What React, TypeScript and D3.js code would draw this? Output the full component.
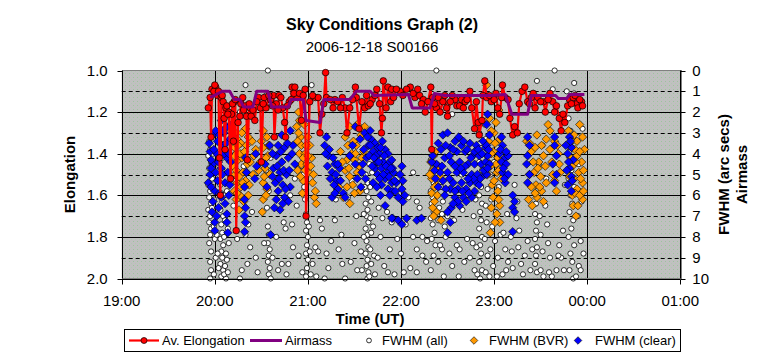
import React from "react";
import * as d3 from "d3";

// ---------- DATA ----------
const timeTicks = ["19:00", "20:00", "21:00", "22:00", "23:00", "00:00", "01:00"];
const timeTickHours = [19, 20, 21, 22, 23, 24, 25];
const elongTicks = [1.0, 1.2, 1.4, 1.6, 1.8, 2.0];
const fwhmTicks = [0, 1, 2, 3, 4, 5, 6, 7, 8, 9, 10];

// [UT hour, elongation]
const avElongation: [number, number][] = [
  [19.93,1.18],[19.95,1.13],[19.96,1.32],[19.97,1.09],[20.01,1.08],[20.03,1.12],[20.06,1.60],[20.07,1.13],[20.09,1.15],[20.10,1.23],[20.12,1.18],[20.15,1.20],[20.17,1.52],[20.18,1.21],[20.21,1.15],[20.23,1.77],[20.25,1.25],[20.28,1.16],[20.33,1.17],[20.34,1.22],[20.35,1.43],[20.38,1.18],[20.39,1.22],[20.47,1.13],[20.49,1.18],[20.50,1.44],[20.53,1.13],[20.55,1.18],[20.60,1.14],[20.63,1.12],[20.64,1.32],[20.66,1.16],[20.69,1.12],[20.73,1.18],[20.75,1.25],[20.76,1.32],[20.80,1.15],[20.83,1.08],[20.86,1.08],[20.89,1.13],[20.97,1.09],[20.98,1.70],[21.02,1.15],[21.08,1.13],[21.11,1.13],[21.13,1.30],[21.15,1.21],[21.19,1.01],[21.20,1.13],[21.29,1.14],[21.32,1.15],[21.40,1.18],[21.42,1.30],[21.45,1.18],[21.51,1.08],[21.52,1.13],[21.55,1.28],[21.58,1.15],[21.61,1.18],[21.65,1.17],[21.69,1.14],[21.74,1.09],[21.77,1.16],[21.79,1.30],[21.80,1.23],[21.81,1.05],[21.86,1.08],[21.89,1.15],[21.90,1.09],[21.92,1.13],[21.99,1.10],[22.10,1.08],[22.15,1.13],[22.20,1.12],[22.24,1.14],[22.26,1.20],[22.32,1.08],[22.33,1.38],[22.34,1.13],[22.38,1.18],[22.40,1.13],[22.45,1.15],[22.49,1.18],[22.50,1.22],[22.58,1.14],[22.60,1.17],[22.63,1.17],[22.65,1.14],[22.69,1.15],[22.74,1.10],[22.76,1.18],[22.79,1.28],[22.81,1.15],[22.83,1.25],[22.84,1.31],[22.87,1.24],[22.88,1.12],[22.90,1.05],[22.92,1.13],[22.97,1.15],[23.04,1.18],[23.06,1.21],[23.09,1.07],[23.12,1.13],[23.20,1.31],[23.22,1.27],[23.25,1.30],[23.30,1.10],[23.33,1.08],[23.36,1.15],[23.40,1.13],[23.44,1.18],[23.47,1.13],[23.53,1.15],[23.55,1.20],[23.60,1.11],[23.63,1.15],[23.65,1.20],[23.67,1.17],[23.70,1.23],[23.72,1.29],[23.76,1.25],[23.79,1.17],[23.81,1.14],[23.85,1.13],[23.89,1.16],[23.90,1.18],[23.94,1.15],[23.95,1.17],
  [19.99,1.10],[20.00,1.07],[20.04,1.10],[20.05,1.42],[20.08,1.12],[20.11,1.38],[20.13,1.17],[20.14,1.21],[20.19,1.16],[20.20,1.34],[20.22,1.14],[20.27,1.22],[20.30,1.13],[20.31,1.19],[20.37,1.16],[20.41,1.19],[20.43,1.24],[20.45,1.15],[20.52,1.16],[20.58,1.12],[20.62,1.17],[20.68,1.19],[20.71,1.13],[20.78,1.17],[20.82,1.14],[20.85,1.11],[20.91,1.11],[20.93,1.24],[20.95,1.12],[21.05,1.12],[21.17,1.16],[21.24,1.14],[21.27,1.18],[21.35,1.18],[21.37,1.13],[21.48,1.14],[21.63,1.12],[21.67,1.16],[21.72,1.12],[21.84,1.18],[21.95,1.09],[22.02,1.12],[22.06,1.09],[22.13,1.11],[22.18,1.09],[22.22,1.16],[22.29,1.15],[22.36,1.16],[22.42,1.20],[22.47,1.12],[22.53,1.15],[22.55,1.12],[22.67,1.18],[22.71,1.14],[22.95,1.12],[23.00,1.14],[23.02,1.11],[23.08,1.13],[23.15,1.14],[23.17,1.23],[23.27,1.16],[23.38,1.16],[23.42,1.11],[23.50,1.15],[23.58,1.14],[23.74,1.21],[23.83,1.16],[23.87,1.12],[23.92,1.14]
];

// [UT hour, airmass]
const airmass: [number, number][] = [
  [19.95,1.13],[20.08,1.10],[20.16,1.10],[20.21,1.14],[20.27,1.14],[20.31,1.175],[20.41,1.175],[20.45,1.10],[20.57,1.10],[20.61,1.175],[20.79,1.175],[20.82,1.14],[20.95,1.14],[20.98,1.24],[21.13,1.25],[21.17,1.14],[21.45,1.14],[21.52,1.10],[21.67,1.10],[21.71,1.12],[22.08,1.115],[22.12,1.18],[22.31,1.18],[22.36,1.11],[22.47,1.12],[22.96,1.12],[23.12,1.115],[23.19,1.21],[23.36,1.21],[23.40,1.12],[23.66,1.12],[23.69,1.135],[23.78,1.135],[23.81,1.115],[23.97,1.115]
];

// [UT hour, FWHM arcsec]
const fwhmAll: [number, number][] = [
  [19.94,3.4],[19.95,3.8],[19.93,4.1],[19.96,4.4],[19.94,4.7],[19.95,5.0],[19.97,5.2],[19.93,5.5],[19.95,5.8],[19.94,6.1],[19.96,6.4],[19.93,6.7],[19.95,7.0],[19.94,7.3],[19.96,7.6],[19.95,7.9],[19.94,8.3],[19.96,8.7],[19.95,9.2],[19.96,9.6],[19.95,10.0],[19.98,4.0],[19.99,4.9],[19.98,5.6],[19.99,6.2],[20.00,6.9],[19.99,7.5],[20.00,8.1],[20.01,9.0],[19.98,3.0],[19.97,6.6],[19.99,9.8],
  [20.06,5.5],[20.07,5.9],[20.08,6.3],[20.06,6.7],[20.09,7.0],[20.07,7.4],[20.08,7.8],[20.06,8.1],[20.09,8.4],[20.07,8.7],[20.08,9.0],[20.06,9.3],[20.09,9.6],[20.07,9.9],[20.10,6.0],[20.11,7.2],[20.10,8.0],[20.12,8.8],[20.11,9.4],[20.12,10.0],[20.13,5.8],[20.14,7.6],[20.13,9.1],[20.05,4.6],[20.08,4.2],[20.15,8.3],[20.06,3.5],[20.07,4.0],[20.08,4.8],
  [20.24,8.1],[20.33,7.9],[20.36,7.4],[20.38,8.5],[20.35,9.3],[20.29,9.6],[20.20,6.5],[20.40,6.8],[20.44,9.0],[20.22,5.3],[20.27,10.0],[20.31,4.6],
  [20.57,0.0],[20.33,0.7],[20.27,2.0],[20.55,1.2],[20.60,1.6],
  [20.57,7.5],[20.58,7.9],[20.57,8.3],[20.59,8.6],[20.58,8.9],[20.57,9.2],[20.59,9.5],[20.58,9.8],[20.60,10.0],[20.56,6.6],[20.58,5.8],[20.55,4.8],[20.60,4.2],[20.59,3.7],
  [20.74,7.3],[20.76,7.6],[20.83,7.4],[20.79,9.3],[20.84,8.5],[20.72,9.3],[20.77,9.8],[20.88,6.5],[20.86,5.2],[20.90,4.7],[20.81,6.0],
  [20.98,6.9],[20.99,7.3],[20.98,7.7],[21.00,8.0],[20.99,8.4],[20.98,8.8],[21.00,9.1],[20.99,9.5],[20.98,9.9],[21.01,7.5],[21.02,8.7],[20.97,6.2],[20.96,5.6],[20.95,5.0],[20.93,4.6],[20.92,4.0],
  [21.04,0.7],[21.13,7.2],[21.15,7.6],[21.08,8.5],[21.11,8.7],[21.05,9.3],[21.22,9.5],[21.29,7.2],[21.36,7.9],[21.37,9.3],[21.50,8.3],[21.52,7.0],[21.57,8.7],[21.43,6.1],[21.55,5.8],[21.47,5.3],[21.30,6.2],[21.18,10.0],[21.25,8.2],[21.40,10.0],
  [21.62,5.0],[21.64,5.4],[21.63,5.8],[21.65,6.1],[21.62,6.4],[21.64,6.7],[21.63,7.0],[21.65,7.3],[21.62,7.6],[21.64,7.9],[21.63,8.2],[21.65,8.5],[21.62,8.8],[21.64,9.1],[21.63,9.4],[21.65,9.7],[21.64,10.0],[21.67,5.6],[21.68,6.3],[21.67,7.1],[21.68,7.8],[21.67,8.6],[21.68,9.3],[21.60,6.9],[21.60,8.0],[21.70,7.5],[21.71,8.9],[21.58,9.6],[21.66,4.5],[21.69,4.9],[21.66,9.9],[21.61,5.6],
  [21.76,6.6],[21.80,7.1],[21.78,8.0],[21.85,6.8],[21.90,7.3],[21.88,8.6],[21.82,9.4],[21.93,9.8],[21.96,8.1],[21.75,9.0],
  [22.13,4.9],[22.17,6.3],[22.20,6.6],[22.13,8.0],[22.23,8.0],[22.17,8.6],[22.23,8.9],[22.10,9.5],[22.17,9.7],[22.05,7.4],[22.00,8.8],[22.27,9.2],[22.08,6.1],
  [22.32,4.3],[22.34,4.7],[22.33,5.1],[22.35,5.4],[22.32,5.8],[22.34,6.1],[22.33,6.4],[22.35,6.8],[22.32,7.1],[22.34,7.4],[22.36,7.8],[22.38,4.5],[22.40,5.2],[22.39,6.0],[22.41,6.6],[22.40,7.2],[22.43,5.6],[22.45,6.3],[22.44,6.9],[22.47,7.5],[22.33,8.1],[22.32,9.6],[22.40,9.2],[22.44,8.6],[22.37,8.4],[22.50,7.0],[22.48,8.0],
  [22.38,0.0],[22.55,2.1],[22.36,3.9],
  [22.60,8.4],[22.63,8.6],[22.57,7.2],[22.66,6.7],[22.68,9.2],[22.71,8.1],[22.74,9.0],[22.62,9.9],[22.55,9.4],[22.72,6.0],[22.65,5.0],
  [22.84,3.0],[22.85,3.5],[22.86,4.0],[22.84,4.4],[22.87,4.8],[22.85,5.2],[22.86,5.6],[22.84,6.0],[22.87,6.4],[22.85,6.8],[22.86,7.2],[22.84,7.6],[22.87,8.0],[22.85,8.4],[22.86,8.8],[22.84,9.2],[22.87,9.6],[22.85,10.0],[22.90,2.6],[22.91,3.3],[22.92,4.1],[22.90,4.9],[22.93,5.7],[22.91,6.5],[22.92,7.3],[22.90,8.1],[22.93,8.9],[22.91,9.7],[22.96,5.0],[22.97,6.2],[22.98,7.5],[22.96,8.6],[22.99,9.4],[23.00,4.4],[23.02,6.8],[23.01,8.2],[23.04,9.0],[23.05,5.6],[23.07,7.9],[22.80,6.2],[22.81,8.5],[22.78,7.0],[22.82,9.8],
  [23.10,7.8],[23.12,8.6],[23.15,9.2],[23.09,9.8],[23.18,8.0],[23.14,6.9],[23.22,5.5],[23.25,6.3],[23.24,7.1],[23.27,7.7],[23.26,8.5],[23.29,9.3],[23.33,8.9],[23.31,9.8],[23.36,8.2],[23.20,9.5],
  [23.44,5.9],[23.45,6.4],[23.44,6.9],[23.46,7.3],[23.45,7.7],[23.44,8.1],[23.46,8.5],[23.45,8.9],[23.44,9.3],[23.46,9.7],[23.49,7.0],[23.50,7.9],[23.52,8.7],[23.50,9.6],[23.55,6.5],[23.57,7.4],[23.58,8.3],[23.60,9.0],[23.62,9.9],[23.48,4.5],[23.52,3.6],[23.56,5.2],
  [23.46,0.5],[23.65,0.0],[23.63,0.9],[23.78,1.0],[23.86,0.6],[23.86,1.1],[23.89,1.5],
  [23.80,2.3],[23.82,2.9],[23.84,3.4],[23.81,3.9],[23.85,4.3],[23.83,4.8],[23.80,5.2],[23.86,5.6],[23.82,6.0],[23.84,6.4],[23.81,6.8],[23.85,7.2],[23.83,7.6],[23.80,8.0],[23.86,8.4],[23.82,8.8],[23.84,9.2],[23.81,9.6],[23.85,10.0],[23.90,3.2],[23.91,4.5],[23.92,5.8],[23.90,7.0],[23.93,8.2],[23.91,9.4],[23.94,6.3],[23.95,2.8],[23.74,7.7],[23.72,9.0],[23.76,5.5],[23.70,8.4],[23.67,9.6],[23.88,9.9],
  [20.03,8.8],[20.04,9.5],[20.02,7.9],[20.10,9.8],[20.14,9.7],[20.46,9.7],[20.53,8.3],[20.62,9.0],[20.66,8.0],[20.68,9.6],[20.90,8.9],[20.94,9.7],[21.03,9.8],[21.09,9.9],[21.20,8.8],[21.33,8.6],[21.46,9.2],[21.53,9.6],[21.72,9.8],[21.86,9.7],[22.03,9.7],[22.28,8.2],[22.35,8.9],[22.42,8.4],[22.46,9.9],[22.52,8.8],[22.77,8.3],[22.79,9.6],[22.95,9.9],[23.03,9.9],[23.13,9.6],[23.19,8.7],[23.39,9.6],[23.41,8.6],[23.53,9.9],[23.59,9.7],[23.69,8.9],[23.75,9.6],[23.93,9.6],[23.96,8.8]
];

const fwhmBVR: [number, number][] = [
  [20.20,2.6],[20.22,3.0],[20.24,3.3],[20.21,3.7],[20.23,4.0],[20.25,4.3],[20.20,4.6],[20.22,5.0],[20.24,5.4],[20.21,5.8],[20.23,6.2],[20.26,6.7],[20.28,3.5],[20.29,4.2],[20.30,4.9],[20.28,5.6],[20.31,6.3],[20.33,2.8],[20.34,3.6],[20.35,4.5],[20.33,5.3],[20.36,6.0],[20.42,4.1],[20.40,3.4],
  [20.52,2.9],[20.56,3.2],[20.52,3.7],[20.57,4.1],[20.49,4.4],[20.54,4.7],[20.59,5.0],[20.52,5.4],[20.56,5.7],[20.52,6.2],[20.51,6.8],
  [20.88,2.7],[20.90,2.0],[20.92,3.2],[20.91,4.0],[20.93,4.5],[20.89,3.4],[20.89,4.8],[21.00,3.2],[21.02,3.6],[20.97,4.0],[20.99,4.5],[21.01,4.9],[21.05,5.4],[21.07,6.1],[21.09,6.4],[20.95,5.3],[20.94,5.9],[21.04,4.2],[20.96,2.6],
  [21.45,2.7],[21.53,2.6],[21.61,2.7],[21.57,3.1],[21.43,3.6],[21.47,4.0],[21.50,4.3],[21.40,4.8],[21.45,5.1],[21.56,5.8],[21.38,6.1],[21.45,6.4],[21.35,3.9],[21.52,3.6],[21.48,5.5],[21.55,4.6],[21.33,5.6],[21.60,3.9],
  [22.32,4.4],[22.34,4.8],[22.33,5.2],[22.38,5.5],[22.33,5.9],[22.36,6.3],[22.38,6.8],[22.43,7.2],[22.35,7.0],[22.40,4.6],[22.37,3.9],[22.42,5.1],
  [22.92,0.7],[22.95,2.3],[23.00,3.0],[22.94,3.4],[22.99,3.9],[23.04,4.2],[22.96,4.6],[23.03,4.9],[23.08,5.2],[22.98,5.5],[23.04,5.8],[22.99,6.1],[23.06,6.5],[23.03,6.9],[23.06,7.3],[22.96,7.8],[23.05,1.9],[23.02,2.5],[22.93,5.0],[23.07,4.4],
  [23.35,3.4],[23.40,3.9],[23.46,3.1],[23.51,3.6],[23.48,4.4],[23.43,4.9],[23.50,5.1],[23.55,4.6],[23.45,5.5],[23.51,5.8],[23.46,6.1],[23.53,6.3],[23.37,6.2],[23.60,2.9],[23.65,3.4],[23.69,4.0],[23.71,4.9],[23.65,5.3],[23.58,2.6],[23.38,5.0],[23.41,6.5],
  [23.86,3.1],[23.89,3.4],[23.95,3.2],[23.83,3.7],[23.89,4.1],[23.94,4.4],[23.84,4.6],[23.91,4.9],[23.86,5.2],[23.95,5.4],[23.89,5.7],[23.84,6.0],[23.95,6.2],[23.88,7.0],[23.80,2.9],[23.92,2.6],[23.97,3.8],[23.81,5.1],
  [20.19,3.2],[20.21,4.1],[20.23,4.8],[20.25,3.6],[20.26,5.1],[20.27,4.0],[20.29,3.0],[20.30,5.4],[20.32,3.9],[20.34,4.9],[20.36,3.2],[20.38,4.4],[20.27,6.0],[20.24,5.9],[20.37,5.5],[20.41,5.0],[20.44,3.8],[20.47,4.8],[20.50,3.4],[20.55,4.2],[20.58,3.6],[20.53,5.1],[20.55,6.0],
  [20.90,3.0],[20.93,3.6],[20.95,4.2],[20.92,5.1],[20.97,4.8],[21.00,4.1],[21.03,4.6],[21.06,5.0],[21.08,5.8],[20.98,3.6],[20.91,2.4],
  [21.40,3.2],[21.42,4.3],[21.44,4.7],[21.49,3.4],[21.51,4.0],[21.53,4.9],[21.58,4.2],[21.42,5.6],[21.50,5.9],[21.37,4.4],
  [22.35,4.1],[22.36,5.6],[22.34,6.6],[22.39,6.0],[22.31,5.0],
  [22.97,2.9],[23.01,3.5],[22.97,4.0],[23.02,4.5],[23.05,4.8],[23.00,5.3],[23.05,6.2],[22.97,6.6],[23.01,7.3],[23.06,3.3],[22.93,4.4],
  [23.38,3.5],[23.42,4.4],[23.44,3.7],[23.47,4.7],[23.53,4.1],[23.49,5.6],[23.44,5.9],[23.56,5.4],[23.60,3.8],[23.62,4.4],[23.63,5.0],[23.68,3.6],[23.70,4.5],[23.67,5.8],[23.56,3.3],[23.40,5.6],
  [23.87,3.8],[23.92,3.9],[23.96,4.8],[23.88,4.4],[23.93,5.2],[23.87,5.9],[23.92,6.0],[23.96,5.8],[23.85,6.5],[23.90,6.5],[23.82,4.2]
];

const fwhmClear: [number, number][] = [
  [20.07,2.4],[20.13,2.7],[20.18,2.6],[19.98,3.1],[20.03,3.4],[20.09,3.6],[20.16,3.3],[19.95,3.9],[20.02,4.0],[20.13,4.2],[19.98,4.5],[20.07,4.7],[20.14,4.9],[19.95,5.0],[20.03,5.3],[20.11,5.4],[20.16,5.5],[20.00,5.8],[20.07,6.1],[19.98,6.3],[19.97,6.8],[20.13,6.9],[20.00,7.3],[20.13,7.3],[20.00,7.7],[20.14,7.8],[19.93,5.4],[20.10,3.0],[20.05,5.9],[20.17,4.4],[19.96,4.3],[20.01,2.9],
  [20.32,5.6],[20.32,6.2],[20.33,6.6],[20.32,7.0],[20.33,7.3],[20.32,7.75],[20.34,4.9],[20.33,4.2],[20.44,4.0],[20.45,4.6],[20.43,5.2],
  [20.72,3.1],[20.81,2.9],[20.68,3.6],[20.75,3.7],[20.84,3.6],[20.66,4.1],[20.72,4.4],[20.79,4.2],[20.63,4.7],[20.70,4.9],[20.77,5.0],[20.65,5.4],[20.73,5.5],[20.81,5.6],[20.68,5.8],[20.75,6.1],[20.79,6.3],[20.70,6.7],[20.59,3.6],[20.54,4.5],[20.86,4.5],[20.60,7.9],[20.64,6.6],[20.56,5.6],
  [21.20,3.2],[21.18,3.6],[21.22,4.1],[21.29,4.5],[21.26,4.9],[21.34,4.7],[21.24,5.2],[21.31,5.3],[21.32,5.7],[21.38,5.9],[21.26,6.1],[21.40,6.1],[21.29,5.9],[21.32,4.5],
  [21.51,2.7],[21.61,3.0],[21.67,2.9],[21.68,3.3],[21.72,3.5],[21.75,3.7],[21.80,3.4],[21.83,3.8],[21.70,3.9],[21.77,4.0],[21.86,4.0],[21.74,4.4],[21.81,4.4],[21.88,4.4],[21.72,4.7],[21.79,4.7],[21.85,4.9],[21.92,4.9],[21.75,5.0],[21.83,5.2],[21.90,5.4],[21.79,5.5],[21.86,5.7],[21.91,5.8],[21.83,6.5],[21.91,7.1],[21.48,3.6],[21.45,4.1],[21.51,4.5],[21.58,4.9],[21.53,5.2],[21.63,4.2],[21.59,4.5],[21.65,3.6],[21.78,6.0],[21.70,5.4],
  [21.90,4.3],[21.91,4.7],[22.01,4.6],[21.99,5.0],[22.02,5.3],[21.95,5.4],[22.01,5.7],[21.94,5.8],[22.04,6.0],[21.97,6.1],[22.02,6.3],[21.90,7.1],[21.97,7.2],[22.06,7.1],[22.01,7.4],[22.17,7.2],[22.22,7.1],
  [22.45,3.1],[22.50,3.0],[22.58,3.4],[22.65,3.6],[22.74,3.5],[22.81,3.6],[22.88,3.4],[22.91,3.7],[22.53,3.7],[22.60,3.9],[22.69,3.9],[22.77,4.1],[22.84,4.1],[22.47,4.2],[22.54,4.4],[22.63,4.4],[22.72,4.5],[22.79,4.5],[22.86,4.5],[22.38,4.5],[22.33,4.4],[22.42,4.9],[22.50,4.9],[22.60,4.9],[22.67,4.9],[22.76,5.0],[22.82,5.0],[22.90,5.0],[22.45,5.3],[22.56,5.4],[22.65,5.4],[22.74,5.4],[22.81,5.4],[22.53,5.7],[22.61,5.7],[22.70,5.7],[22.79,5.8],[22.58,6.1],[22.67,6.1],[22.76,6.1],[22.54,6.6],[22.50,6.8],[22.63,6.5],[22.50,7.8],[22.53,7.3],[22.84,5.5],[22.91,4.4],[22.34,4.1],[22.37,5.2],
  [22.93,2.1],[22.92,2.6],[22.95,3.1],[22.92,3.6],[22.93,4.1],[22.95,4.5],[22.92,5.0],[23.08,3.2],[23.09,3.6],[23.06,4.0],[23.12,4.2],[23.15,4.1],[23.08,4.4],[23.13,4.5],[23.09,4.9],[23.15,5.0],[23.12,5.4],[23.20,6.0],[23.22,6.3],[23.20,6.6],[23.22,6.8],[23.20,7.75],
  [23.36,3.2],[23.38,3.6],[23.36,4.1],[23.35,4.5],[23.38,5.0],[23.36,5.4],
  [23.65,3.2],[23.65,3.6],[23.67,4.1],[23.63,4.5],[23.67,5.0],[23.65,5.4],
  [23.81,3.2],[23.83,3.7],[23.79,4.0],[23.85,4.3],[23.81,4.7],[23.83,5.1],[23.79,5.5],[23.83,5.8],[23.77,3.6],
  [19.94,3.5],[19.96,4.7],[19.99,3.8],[20.01,4.9],[20.04,4.4],[20.05,3.1],[20.08,5.0],[20.10,4.0],[20.12,3.5],[20.15,4.0],[20.11,6.4],[20.04,6.6],[19.96,5.6],[20.09,2.9],[20.15,6.0],[20.02,7.0],
  [20.62,4.0],[20.67,4.6],[20.74,4.8],[20.71,3.9],[20.78,3.5],[20.83,4.0],[20.69,5.2],[20.76,5.7],[20.62,5.1],[20.66,6.2],[20.73,6.4],[20.80,4.8],
  [21.21,4.6],[21.23,3.8],[21.27,4.2],[21.30,5.0],[21.35,5.3],[21.28,5.5],[21.19,4.0],
  [21.56,3.3],[21.60,3.8],[21.64,3.2],[21.66,4.1],[21.69,4.6],[21.73,4.1],[21.76,4.4],[21.78,3.7],[21.82,4.1],[21.84,4.6],[21.87,5.1],[21.89,4.7],[21.81,5.0],[21.77,5.2],[21.74,5.6],[21.88,6.0],[21.93,5.3],[21.62,5.2],[21.57,5.6],[21.67,3.6],[21.71,4.2],
  [22.40,3.5],[22.43,3.8],[22.48,3.6],[22.52,4.1],[22.56,3.8],[22.62,3.2],[22.67,3.4],[22.71,3.8],[22.75,4.2],[22.79,3.9],[22.83,3.8],[22.87,4.0],[22.89,4.8],[22.85,5.2],[22.78,5.2],[22.72,5.2],[22.69,4.6],[22.64,4.7],[22.58,4.6],[22.52,5.2],[22.48,5.7],[22.44,4.6],[22.40,5.6],[22.36,4.8],[22.58,5.8],[22.66,5.8],[22.73,5.9],[22.61,6.3],[22.56,6.4],[22.70,6.3],[22.47,6.0],
  [23.07,3.8],[23.10,4.7],[23.13,3.9],[23.11,5.2],[22.94,3.8],[22.93,4.7],
  [23.80,4.4],[23.84,5.3],[23.78,4.8],[23.82,3.4]
];

// ---------- CHART ----------
const W = 764, H = 358;
const L = 121.7, R = 680.3, T = 70.5, B = 278.5;
const FONT = "'Liberation Sans', Arial, sans-serif";

const x = d3.scaleLinear().domain([19, 25]).range([L, R]);
const yE = d3.scaleLinear().domain([1, 2]).range([T, B]);
const yF = d3.scaleLinear().domain([0, 10]).range([T, B]);
const px = (v: number) => Math.round(v) + 0.5;

const diamond = (cx: number, cy: number, r: number) =>
  `M${cx},${cy - r}L${cx + r},${cy}L${cx},${cy + r}L${cx - r},${cy}Z`;

export default function App() {
  const elongSorted = d3.sort(avElongation, d => d[0]);
  const elongLine = d3.line<[number, number]>().x(d => x(d[0])).y(d => yE(d[1]))(elongSorted) || "";
  const airLine = d3.line<[number, number]>().x(d => x(d[0])).y(d => yE(d[1]))(airmass) || "";
  const midY = (T + B) / 2;

  return (
    <svg width={W} height={H} style={{ position: "absolute", left: 0, top: 0, background: "#fff" }} fontFamily={FONT}>
      <defs>
        <pattern id="dots" width="4" height="4" patternUnits="userSpaceOnUse">
          <rect width="4" height="4" fill="#C0C0C0" />
          <rect x="1" y="1" width="1" height="1" fill="#9CC49C" />
          <rect x="3" y="3" width="1" height="1" fill="#B0C8B0" />
        </pattern>
      </defs>

      <text x={382} y={30} textAnchor="middle" fontSize={16} fontWeight="bold">Sky Conditions Graph (2)</text>
      <text x={372} y={52} textAnchor="middle" fontSize={15}>2006-12-18 S00166</text>

      <rect x={L} y={T} width={R - L} height={B - T} fill="url(#dots)" />

      {fwhmTicks.filter(f => f > 0 && f < 10).map(f => (
        <line key={"h" + f} x1={L} x2={R} y1={px(yF(f))} y2={px(yF(f))} stroke="#000" strokeWidth={1}
          strokeDasharray={f % 2 === 1 ? "4,3" : undefined} />
      ))}
      {timeTickHours.filter(h => h > 19 && h < 25).map(h => (
        <line key={"v" + h} x1={px(x(h))} x2={px(x(h))} y1={T} y2={B} stroke="#000" strokeWidth={1} />
      ))}
      <rect x={px(L)} y={px(T) - 1} width={Math.round(R - L)} height={Math.round(B - T)} fill="none" stroke="#808080" strokeWidth={1} />

      <g>
        {fwhmAll.map((d, i) => (
          <circle key={"w" + i} cx={x(d[0])} cy={yF(d[1])} r={2.6} fill="#fff" stroke="#000" strokeWidth={0.8} />
        ))}
      </g>
      <g>
        {fwhmBVR.map((d, i) => (
          <path key={"o" + i} d={diamond(x(d[0]), yF(d[1]), 4.2)} fill="#FF9900" stroke="#000" strokeWidth={0.6} />
        ))}
      </g>
      <g>
        {fwhmClear.map((d, i) => (
          <path key={"b" + i} d={diamond(x(d[0]), yF(d[1]), 4.2)} fill="#0000FF" stroke="#000" strokeWidth={0.6} />
        ))}
      </g>
      <path d={elongLine} fill="none" stroke="#FF0000" strokeWidth={2.2} strokeLinejoin="round" />
      {avElongation.map((d, i) => (
        <circle key={"r" + i} cx={x(d[0])} cy={yE(d[1])} r={3.3} fill="#FF0000" stroke="#000" strokeWidth={0.7} />
      ))}
      <path d={airLine} fill="none" stroke="#800080" strokeWidth={3} strokeLinejoin="round" />

      <line x1={px(L)} x2={px(L)} y1={T} y2={B} stroke="#000" />
      {elongTicks.map(v => (
        <g key={"le" + v}>
          <line x1={px(L) - 5} x2={px(L)} y1={px(yE(v))} y2={px(yE(v))} stroke="#000" />
          <text x={L - 14} y={yE(v) + 5} textAnchor="end" fontSize={15}>{v.toFixed(1)}</text>
        </g>
      ))}
      <line x1={px(R)} x2={px(R)} y1={T} y2={B} stroke="#000" />
      {fwhmTicks.map(v => (
        <g key={"rf" + v}>
          <line x1={px(R)} x2={px(R) + 5} y1={px(yF(v))} y2={px(yF(v))} stroke="#000" />
          <text x={R + 12} y={yF(v) + 5} textAnchor="start" fontSize={15}>{v}</text>
        </g>
      ))}
      <line x1={L} x2={R} y1={px(B)} y2={px(B)} stroke="#000" />
      {timeTickHours.map((h, i) => (
        <g key={"bt" + h}>
          <line x1={px(x(h))} x2={px(x(h))} y1={px(B)} y2={px(B) + 5} stroke="#000" />
          <text x={x(h)} y={306} textAnchor="middle" fontSize={15}>{timeTicks[i]}</text>
        </g>
      ))}

      <text x={370} y={324} textAnchor="middle" fontSize={15} fontWeight="bold">Time (UT)</text>
      <text transform={`translate(75,${midY}) rotate(-90)`} textAnchor="middle" fontSize={15} fontWeight="bold">Elongation</text>
      <text transform={`translate(729,${midY}) rotate(-90)`} textAnchor="middle" fontSize={15} fontWeight="bold">FWHM (arc secs)</text>
      <text transform={`translate(747,${midY}) rotate(-90)`} textAnchor="middle" fontSize={15} fontWeight="bold">Airmass</text>

      <rect x={124.5} y={329.5} width={556} height={22} fill="#fff" stroke="#000" />
      <line x1={129} x2={159} y1={340.5} y2={340.5} stroke="#FF0000" strokeWidth={2.2} />
      <circle cx={144} cy={340.5} r={3} fill="#FF0000" stroke="#000" strokeWidth={0.7} />
      <text x={162} y={345} fontSize={13}>Av. Elongation</text>
      <line x1={250} x2={282} y1={340.5} y2={340.5} stroke="#800080" strokeWidth={3} />
      <text x={285} y={345} fontSize={13}>Airmass</text>
      <circle cx={369} cy={340.5} r={2.4} fill="#fff" stroke="#000" strokeWidth={0.8} />
      <text x={382} y={345} fontSize={13}>FWHM (all)</text>
      <path d={diamond(474, 340.5, 3.8)} fill="#FF9900" stroke="#000" strokeWidth={0.6} />
      <text x={489} y={345} fontSize={13}>FWHM (BVR)</text>
      <path d={diamond(578, 340.5, 3.8)} fill="#0000FF" stroke="#000" strokeWidth={0.6} />
      <text x={595} y={345} fontSize={13}>FWHM (clear)</text>
    </svg>
  );
}
